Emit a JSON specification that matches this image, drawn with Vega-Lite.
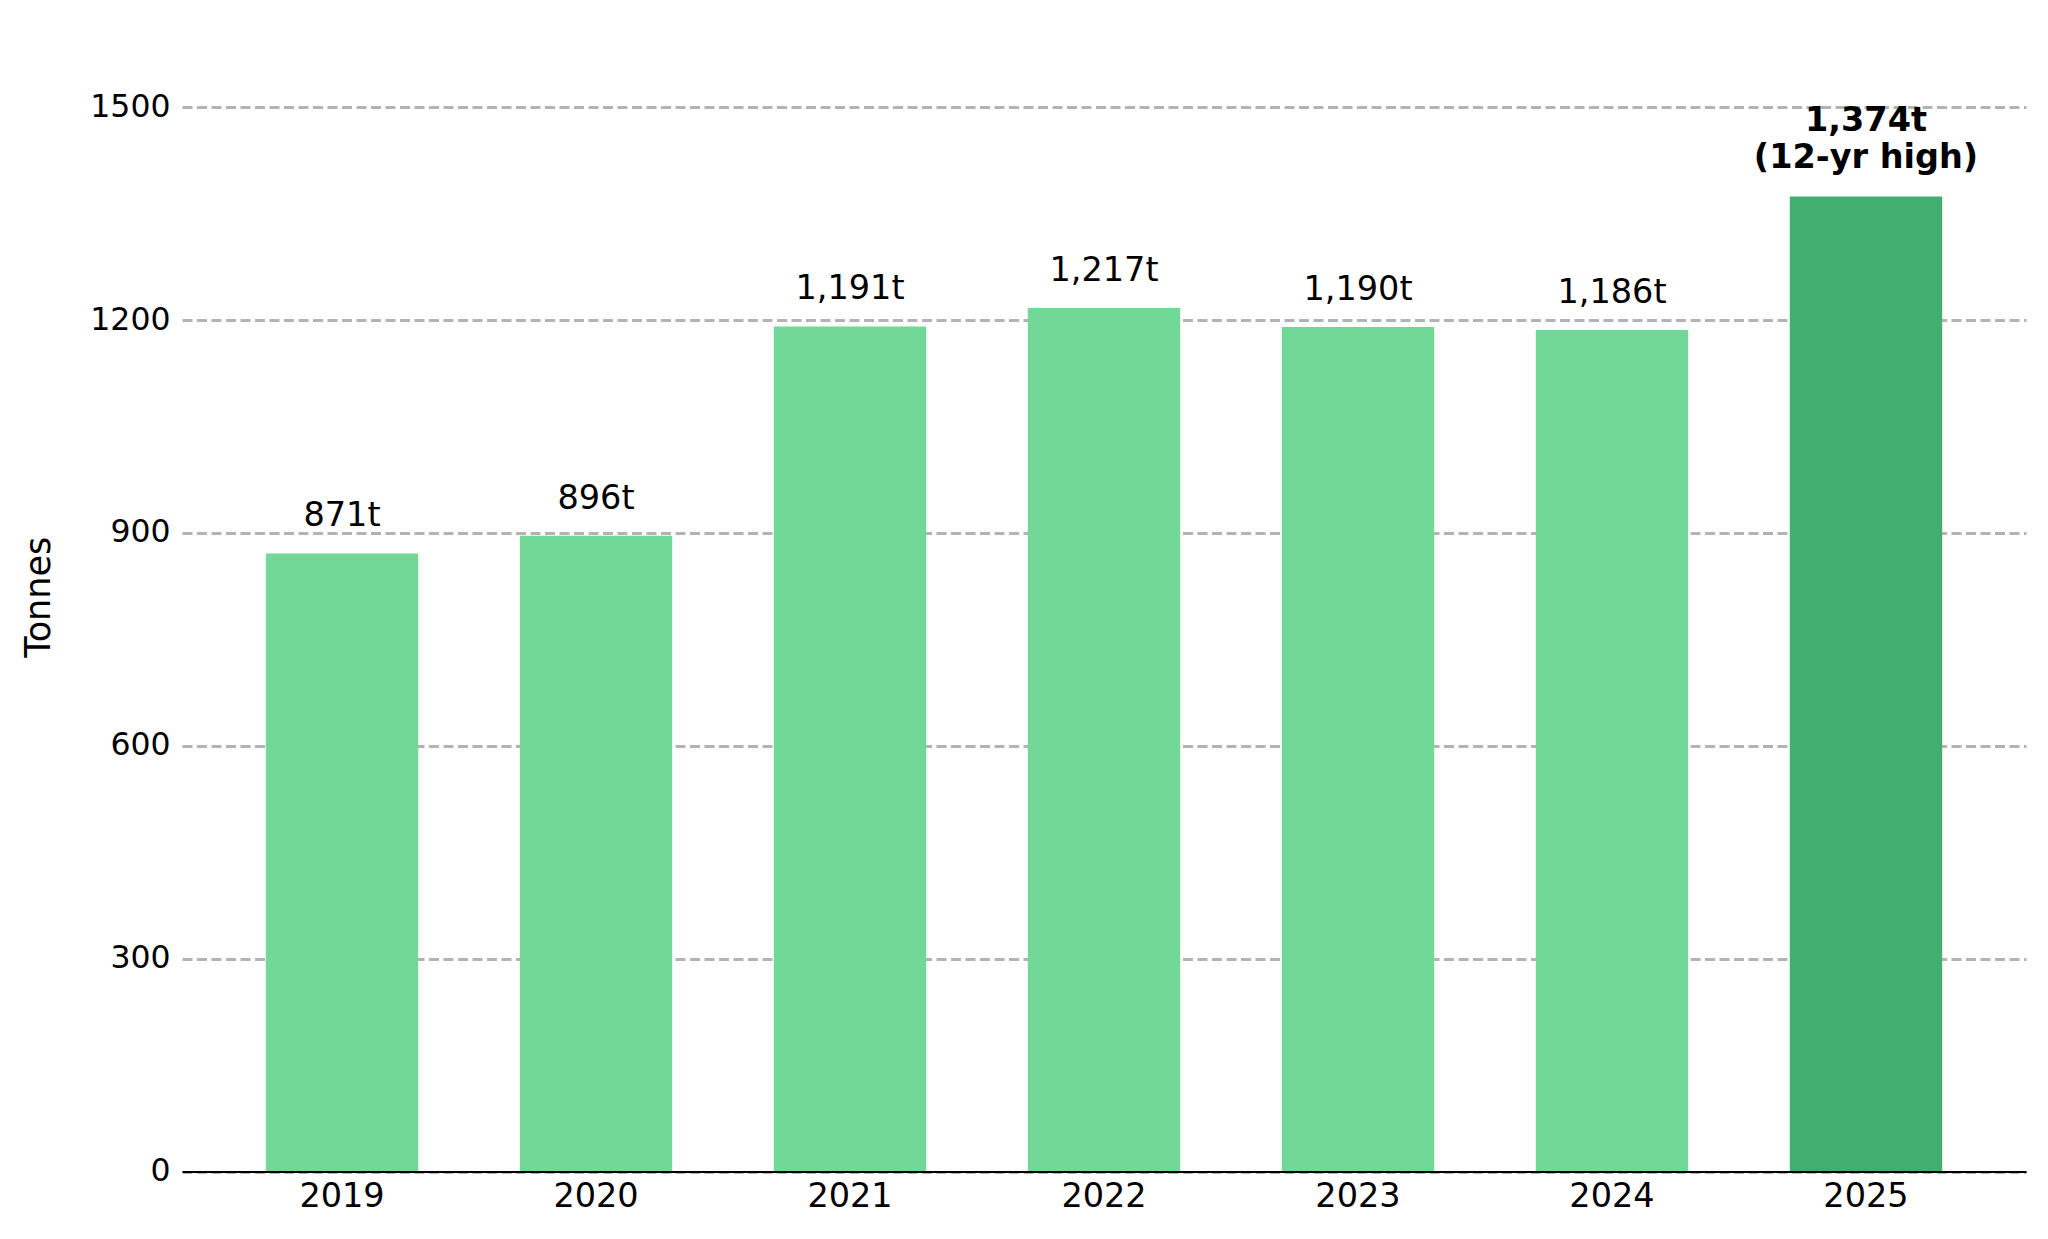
{
  "$schema": "https://vega.github.io/schema/vega-lite/v6.json",
  "autosize": "none",
  "width": 1844,
  "height": 1149.5,
  "padding": {"left": 182, "top": 22, "right": 22, "bottom": 67.5},
  "background": "white",
  "config": {"view": {"stroke": null}, "font": "DejaVu Sans"},
  "data": {
    "values": [
      {"year": "2019", "tonnes": 871, "label": "871t", "highlight": "no"},
      {"year": "2020", "tonnes": 896, "label": "896t", "highlight": "no"},
      {"year": "2021", "tonnes": 1191, "label": "1,191t", "highlight": "no"},
      {"year": "2022", "tonnes": 1217, "label": "1,217t", "highlight": "no"},
      {"year": "2023", "tonnes": 1190, "label": "1,190t", "highlight": "no"},
      {"year": "2024", "tonnes": 1186, "label": "1,186t", "highlight": "no"},
      {"year": "2025", "tonnes": 1374, "label": "1,374t\n(12-yr high)", "highlight": "yes"}
    ]
  },
  "encoding": {
    "x": {
      "field": "year",
      "type": "ordinal",
      "scale": {"paddingInner": 0.4, "paddingOuter": 0.33},
      "axis": {
        "title": null,
        "labelAngle": 0,
        "labelFontSize": 33.5,
        "labelColor": "black",
        "labelPadding": 9,
        "ticks": false,
        "tickSize": 0,
        "domain": true,
        "domainColor": "black",
        "domainWidth": 2.2,
        "grid": false,
        "zindex": 1
      }
    },
    "y": {
      "field": "tonnes",
      "type": "quantitative",
      "scale": {"domain": [0, 1620], "nice": false},
      "axis": {
        "title": "Tonnes",
        "titleFontSize": 35,
        "titleFontWeight": "normal",
        "titleColor": "black",
        "titlePadding": 33,
        "values": [0, 300, 600, 900, 1200, 1500],
        "format": "d",
        "labelFontSize": 31.5,
        "labelColor": "black",
        "labelPadding": 12,
        "ticks": false,
        "tickSize": 0,
        "domain": false,
        "grid": true,
        "gridColor": "#b3b3b3",
        "gridDash": [10, 4.5],
        "gridWidth": 2.8
      }
    }
  },
  "layer": [
    {
      "mark": {"type": "bar"},
      "encoding": {
        "color": {
          "field": "highlight",
          "type": "nominal",
          "scale": {"domain": ["no", "yes"], "range": ["#71D898", "#42AE70"]},
          "legend": null
        }
      }
    },
    {
      "transform": [{"filter": "datum.highlight == 'no'"}],
      "mark": {"type": "text", "baseline": "alphabetic", "dy": -27, "fontSize": 33.5, "color": "black"},
      "encoding": {"text": {"field": "label"}}
    },
    {
      "transform": [{"filter": "datum.highlight == 'yes'"}],
      "mark": {"type": "text", "baseline": "alphabetic", "dy": -66, "fontSize": 33.5, "fontWeight": "bold", "lineBreak": "\n", "lineHeight": 37, "color": "black"},
      "encoding": {"text": {"field": "label"}}
    }
  ]
}
